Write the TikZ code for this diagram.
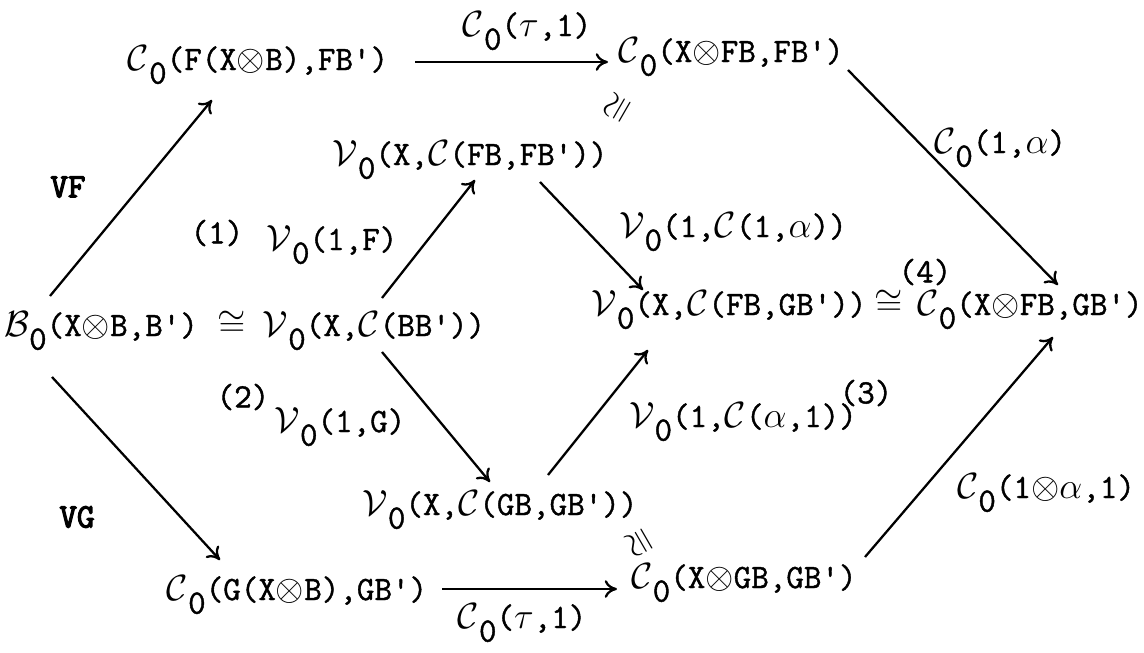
\documentclass[tikz,border=0pt]{standalone}
\usepackage{fontspec}
\setmonofont{Latin Modern Mono}[FakeBold=1.2]
\newfontfamily\heavytt{Latin Modern Mono}[FakeBold=3.5]
\usetikzlibrary{arrows.meta}
\begin{document}
\begin{tikzpicture}[x=0.02cm,y=-0.02cm,
  every node/.style={font=\ttfamily\fontsize{19.4}{22}\selectfont,inner sep=0.5pt},
  ob/.style={anchor=base},
  ar/.style={line width=1.3pt,-{To[length=7pt,width=10pt]}},
  hv/.style={font=\heavytt\fontsize{19.4}{22}\selectfont}]
% zero typed below the line
\def\zr{\raisebox{-0.4em}{0}}
\def\Vo{$\mathcal{V}$\zr}
\def\Co{$\mathcal{C}$\zr}
\useasboundingbox (0,0) rectangle (1144,653);
%------------- top row
\node[ob] (tl) at (258,70) {\Co(F(X$\otimes$B),FB')};
\node[ob] (tr) at (731,62) {\Co(X$\otimes$FB,FB')};
\node[ob] (vf) at (470,165) {\Vo(X,$\mathcal{C}$(FB,FB'))};
\node[rotate=60] (isot) at (619,109) {$\cong$};
%------------- middle row
\node[ob] (ml1) at (101,336) {$\mathcal{B}$\zr(X$\otimes$B,B')};
\node[ob] (mliso) at (232,336) {$\cong$};
\node[ob] (ml2) at (374,336) {\Vo(X,$\mathcal{C}$(BB'))};
\node[ob] (mr1) at (729,315) {\Vo(X,$\mathcal{C}$(FB,GB'))};
\node[ob] (mriso) at (889,315) {$\cong$};
\node[ob] (mr2) at (1030,315) {\Co(X$\otimes$FB,GB')};
%------------- bottom row
\node[ob] (vg) at (500,515) {\Vo(X,$\mathcal{C}$(GB,GB'))};
\node[rotate=120] (isob) at (641,542) {$\cong$};
\node[ob] (bl) at (297,600) {\Co(G(X$\otimes$B),GB')};
\node[ob] (br) at (744,588) {\Co(X$\otimes$GB,GB')};
%------------- arrows
\draw[ar] ([shift={(157,-8)}]tl.base) -- ([shift={(-123,0)}]tr.base);
\draw[ar] ([shift={(-51,-40)}]ml1.base) -- ([shift={(-46,30)}]tl.base);
\draw[ar] ([shift={(-49,41)}]ml1.base) -- ([shift={(-77,-40)}]bl.base);
\draw[ar] ([shift={(8,-38)}]ml2.base) -- ([shift={(5,15)}]vf.base);
\draw[ar] ([shift={(8,16)}]ml2.base) -- ([shift={(-10,-33)}]vg.base);
\draw[ar] ([shift={(70,17)}]vf.base) -- ([shift={(-86,-25)}]mr1.base);
\draw[ar] ([shift={(48,-40)}]vg.base) -- ([shift={(-81,35)}]mr1.base);
\draw[ar] ([shift={(117,8)}]tr.base) -- ([shift={(28,-30)}]mr2.base);
\draw[ar] ([shift={(121,-31)}]br.base) -- ([shift={(23,22)}]mr2.base);
\draw[ar] ([shift={(145,-11)}]bl.base) -- ([shift={(-127,1)}]br.base);
%------------- arrow labels
\node[ob] (ttau) at (527,36) {\Co($\tau$,1)};
\node[ob] (btau) at (522,628) {\Co($\tau$,1)};
\node[ob] (calpha) at (1000,153) {\Co(1,$\alpha$)};
\node[ob] (ctalpha) at (1046,498) {\Co(1$\otimes\alpha$,1)};
\node[ob] (vof) at (332,250) {\Vo(1,F)};
\node[ob] (vog) at (340,432) {\Vo(1,G)};
\node[ob] (vcia) at (733,237) {\Vo(1,$\mathcal{C}$(1,$\alpha$))};
\node[ob] (vcai) at (743,427) {\Vo(1,$\mathcal{C}$($\alpha$,1))};
\node[hv] (vfl) at (68,187) {VF};
\node[hv] (vgl) at (77,517) {VG};
%------------- regions
\node (r1) at (217,233) {(1)};
\node (r2) at (243,397) {(2)};
\node (r3) at (866,393) {(3)};
\node (r4) at (925,272) {(4)};
\end{tikzpicture}
\end{document}
